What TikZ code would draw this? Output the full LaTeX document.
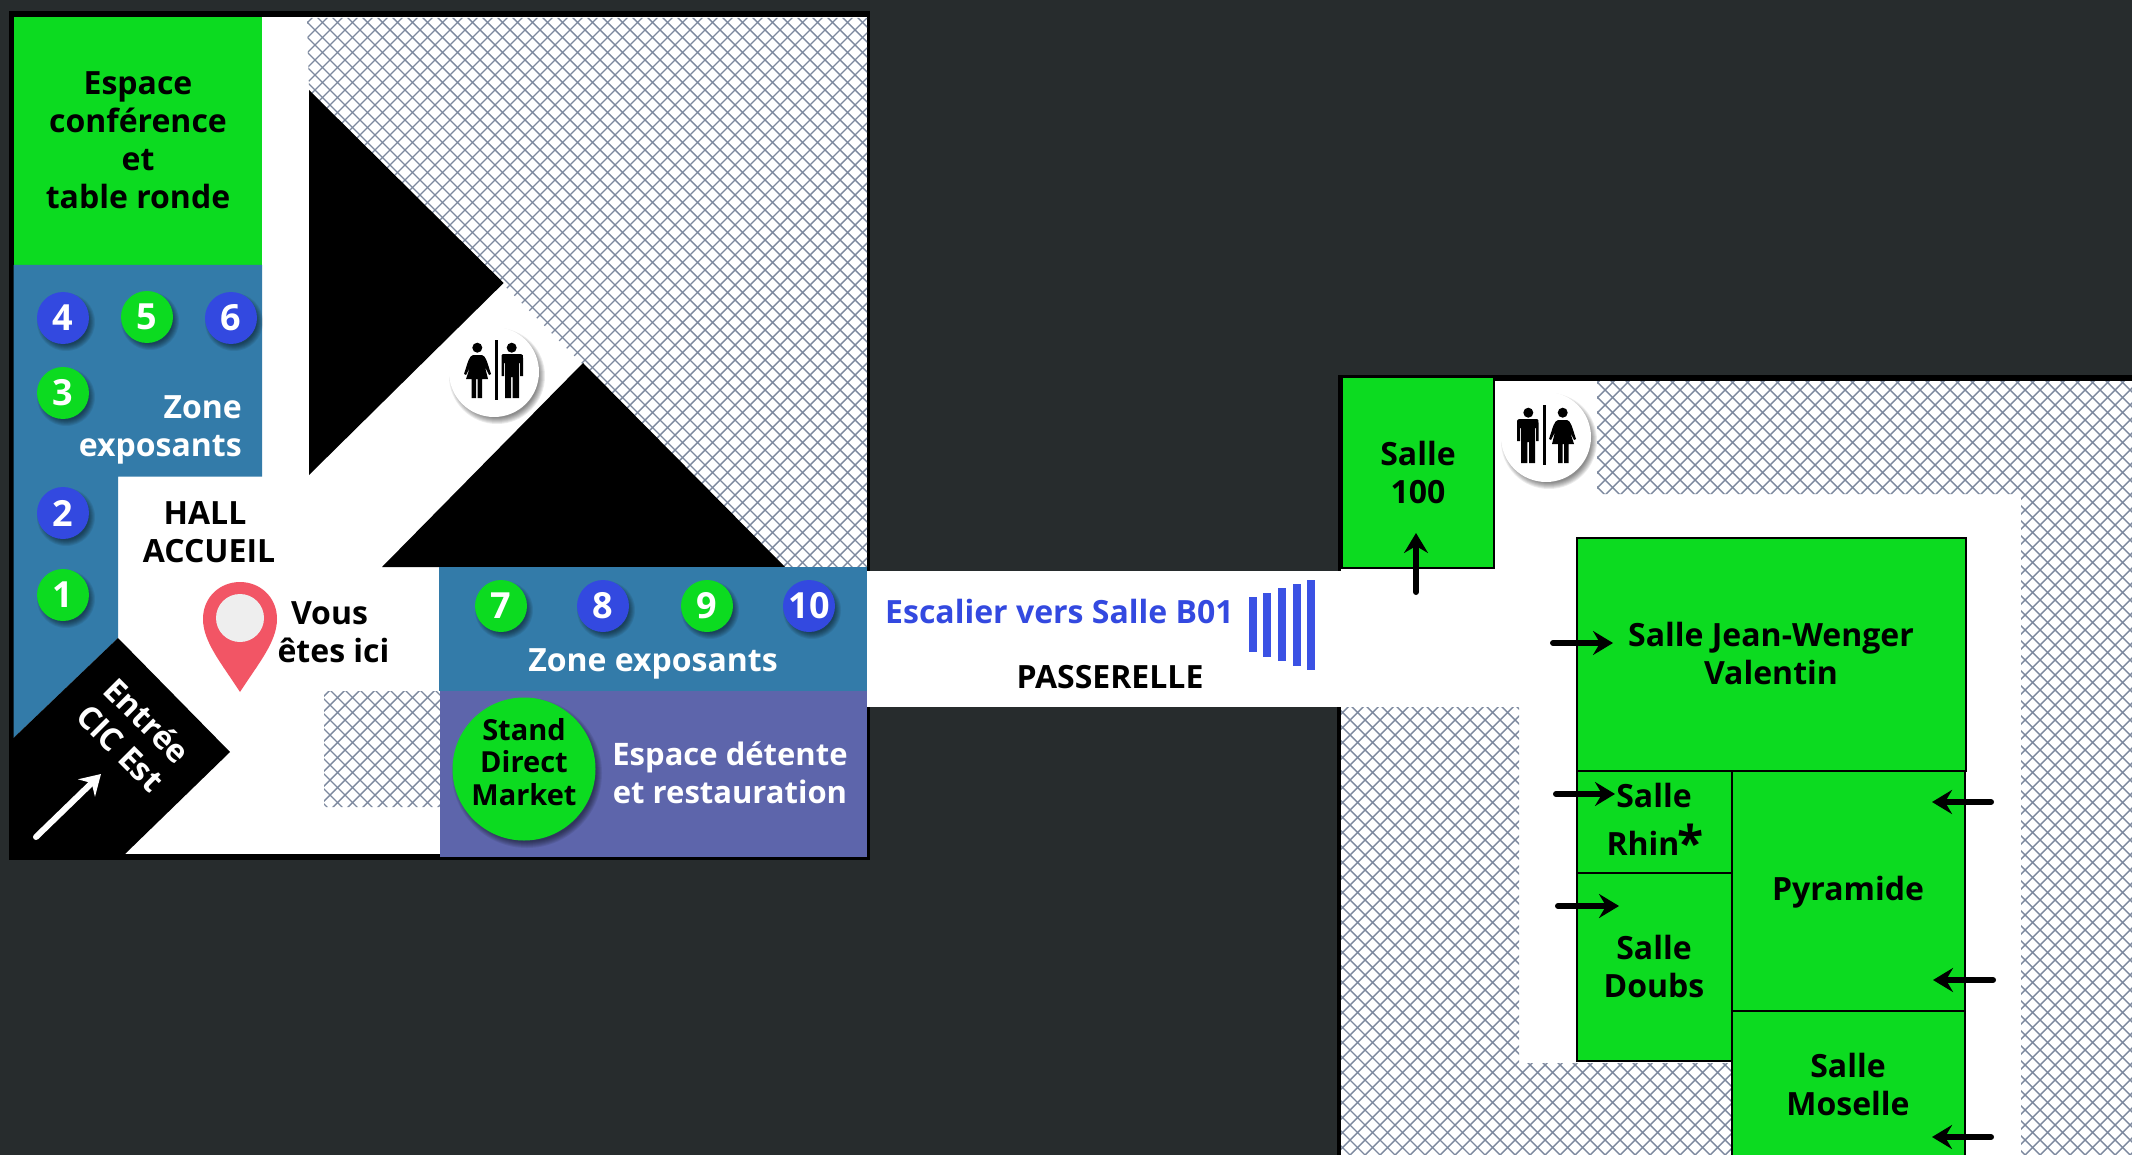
\documentclass[tikz,border=0pt]{standalone}
\usepackage{fontspec}
\setmainfont{Open Sans}
\usetikzlibrary{arrows.meta}
\definecolor{bgdark}{HTML}{272C2D}
\definecolor{roomgreen}{HTML}{0CDB20}
\definecolor{badgeblue}{HTML}{3349E0}
\definecolor{zoneblue}{HTML}{337BA9}
\definecolor{relaxpurple}{HTML}{5D65AB}
\definecolor{hatchcol}{HTML}{7C889E}
\definecolor{pinred}{HTML}{F25565}
\definecolor{pingrey}{HTML}{EEEEEE}
\definecolor{stairblue}{HTML}{3B52E4}
\newcommand{\softshadow}[3]{%
  \foreach \k in {0,...,6}{\fill[black,opacity=.08] ({#1+3},{#2+4}) circle ({#3+3-\k});}}
\newcommand{\badge}[5]{%
  \softshadow{#2}{#3}{26}%
  \node[badgestyle,fill=#4] (#1) at (#2,#3) {#5};}
\tikzset{
  lbl/.style={font=\fontsize{32}{38}\selectfont\bfseries,align=center,text=black,inner sep=0pt},
  lblw/.style={lbl,text=white},
  badgestyle/.style={circle,minimum size=52pt,inner sep=0pt,text=white,font=\fontsize{36}{36}\selectfont\bfseries},
  room/.style={draw=black,line width=2.8pt,fill=roomgreen},
  door/.style={line width=6pt,line cap=round,-{Stealth[length=20pt,width=24pt,inset=7pt]}},
  wc/.pic={
    \fill[black] (-16.7,-24.3) circle (5);
    \fill[black] (-21,-17) -- (-12,-17) .. controls (-8,-16) and (-7,-10) .. (-3,2) -- (-5,3) -- (-9,-5) -- (-6,7) -- (-12,7) -- (-12,26) -- (-16.5,26) -- (-16.5,7) -- (-18,7) -- (-18,26) -- (-22.5,26) -- (-22.5,7) -- (-28,7) -- (-24,-5) -- (-28,3) -- (-30,2) .. controls (-26,-10) and (-25,-16) .. (-21,-17) -- cycle;
    \fill[black] (0.5,-32) rectangle (3.5,28);
    \fill[black] (17.7,-24.3) circle (5);
    \fill[black] (9,-18) -- (27,-18) .. controls (29,-18) and (29,-16) .. (29,-14) -- (29,4) -- (26,4) -- (26,-9) -- (25,-9) -- (25,26) -- (18.7,26) -- (18.7,5) -- (17,5) -- (17,26) -- (11,26) -- (11,-9) -- (10,-9) -- (10,4) -- (7.5,4) -- (7.5,-14) .. controls (7.5,-16) and (7.5,-18) .. (9,-18) -- cycle;
  }
}
\begin{document}
\begin{tikzpicture}[x=1pt,y=-1pt]
\useasboundingbox (0,0) rectangle (2132,1155);
\fill[bgdark] (0,0) rectangle (2132,1155);
% left building
\fill[black] (9,11) rectangle (870,860);
\fill[white] (13.5,17) rectangle (867,854);
% passerelle + right building
\fill[black] (1338,375) rectangle (2132,381);
\fill[white] (867,571) rectangle (1342,707);
\fill[black] (867,707) rectangle (870,860);
\fill[black] (1338,375) rectangle (1342,571);
\fill[white] (1341,381) rectangle (2132,1155);
\fill[black] (1337,707) rectangle (1341,1155);
% hatching
\begin{scope}
\clip (307,18) -- (867,18) -- (867,567) -- (785,567) -- (309,90) -- cycle
      (324,691) rectangle (440,807)
      (1597,381) -- (2132,381) -- (2132,1155) -- (2021,1155) -- (2021,494) -- (1597,494) -- cycle
      (1341,707) -- (1519,707) -- (1519,1063) -- (1733,1063) -- (1733,1155) -- (1341,1155) -- cycle;
\foreach \c in {0,15,...,3300}{
  \draw[hatchcol,line width=1.4pt] (\c,0) -- ({\c-1155},1155);
  \draw[hatchcol,line width=1.4pt] ({\c-1155},0) -- (\c,1155);
}
\end{scope}
% left zones
\fill[roomgreen] (13.5,17) rectangle (262,265);
\fill[zoneblue] (13.5,265) -- (262,265) -- (262,476.7) -- (118,476.7) -- (118,638) -- (13.5,738) -- cycle;
\fill[black] (118,638) -- (230,752) -- (125,854) -- (13.5,854) -- (13.5,738) -- cycle;
\fill[black] (309,90) -- (503.6,283) -- (309,475) -- cycle;
\fill[black] (583,363) -- (785,567) -- (382,567) -- cycle;
\fill[zoneblue] (439,567) rectangle (867,691);
\fill[relaxpurple] (440,691) rectangle (867,857);
% wc circles
\softshadow{494}{372}{45}
\node[circle,fill=white,minimum size=90pt,inner sep=0pt] (wcleft) at (494,372) {};
\pic at (wcleft.center) {wc};
\softshadow{1546}{437}{45}
\node[circle,fill=white,minimum size=90pt,inner sep=0pt] (wcright) at (1546,437) {};
\pic[xscale=-1] at (wcright.center) {wc};
% badges
\badge{n4}{63}{318}{badgeblue}{4}
\badge{n5}{147}{317}{roomgreen}{5}
\badge{n6}{231}{318}{badgeblue}{6}
\badge{n3}{63}{393}{roomgreen}{3}
\badge{n2}{63}{513}{badgeblue}{2}
\badge{n1}{63}{595}{roomgreen}{1}
\badge{n7}{501}{606}{roomgreen}{7}
\badge{n8}{603}{606}{badgeblue}{8}
\badge{n9}{707}{606}{roomgreen}{9}
\badge{n10}{809}{606}{badgeblue}{10}
% left labels
\node[lbl] (conf) at (138,140) {Espace\\conférence\\et\\table ronde};
\node[lblw,align=right,anchor=east] (zone1) at (242,430) {Zone\\exposants};
\node[lbl] (hall) at (209,532) {HALL\hspace*{8pt}\\ACCUEIL};
\node[lbl] (ici) at (333.5,632) {Vous\hspace*{8pt}\\êtes ici};
\node[lblw] (zone2) at (653,664) {Zone exposants};
\node[lblw,font=\fontsize{31}{38}\selectfont\bfseries] (detente) at (730,773) {Espace détente\\et restauration};
\softshadow{524}{769}{72}
\node[circle,fill=roomgreen,minimum size=143pt,inner sep=0pt] (stand) at (524,769) {};
\node[lbl,font=\fontsize{29}{32.5}\selectfont\bfseries] (standt) at (524,762) {Stand\\Direct\\Market};
\node[lblw,rotate=-45] (entree) at (134,734) {Entrée\\CIC Est};
\coordinate (ea) at (36,837);
\coordinate (eb) at (101,774);
\draw[white,line width=6pt,line cap=round,-{Stealth[length=20pt,width=24pt,inset=7pt]}] (ea) -- (eb);
% pin
\fill[pinred] (240,692) .. controls (222,664) and (203,642) .. (203,619) .. controls (203,597) and (220,582) .. (240,582) .. controls (260,582) and (277,597) .. (277,619) .. controls (277,642) and (258,664) .. (240,692) -- cycle;
\fill[pingrey] (240,618) circle (24);
% passerelle labels
\node[lbl,anchor=west,text=badgeblue] (esc) at (885,611) {Escalier vers Salle B01};
\node[lbl] (pass) at (1110,677) {PASSERELLE};
\foreach \xx/\ya/\yb in {1253/597/652,1267/593/657,1282/588/661,1296.5/584/666,1311/580/670}{
  \fill[stairblue] (\xx-4,\ya) rectangle (\xx+4,\yb);
}
% rooms
\draw[room] (1342,377) rectangle (1494,568);
\draw[room] (1577,538) rectangle (1966,771);
\draw[room] (1577,771) rectangle (1732,873);
\draw[room] (1577,873) rectangle (1732,1061);
\draw[room] (1732,771) rectangle (1965,1011);
\draw[room] (1732,1011) rectangle (1965,1180);
\node[lbl] (s100) at (1418,472) {Salle\\100};
\node[lbl] (jean) at (1771,653) {Salle Jean-Wenger\\Valentin};
\node[lbl] (rhin1) at (1654,795) {Salle};
\node[lbl,anchor=base] (rhin2) at (1643,855) {Rhin};
\node[lbl,anchor=center,font=\fontsize{48}{48}\selectfont\bfseries] (star) at (1691,842) {*};
\node[lbl] (doubs) at (1654,966) {Salle\\Doubs};
\node[lbl] (pyr) at (1848,892) {Pyramide};
\node[lbl] (mos) at (1848,1084) {Salle\\Moselle};
% door arrows
\coordinate (a1) at (1416,592); \coordinate (b1) at (1416,533);
\coordinate (a2) at (1553,643); \coordinate (b2) at (1613,643);
\coordinate (a3) at (1556,794); \coordinate (b3) at (1615,794);
\coordinate (a4) at (1558,906); \coordinate (b4) at (1619,906);
\coordinate (a5) at (1991,802); \coordinate (b5) at (1932,802);
\coordinate (a6) at (1993,980); \coordinate (b6) at (1933,980);
\coordinate (a7) at (1991,1137); \coordinate (b7) at (1932,1137);
\foreach \i in {1,...,7}{\draw[door] (a\i) -- (b\i);}
\end{tikzpicture}
\end{document}
